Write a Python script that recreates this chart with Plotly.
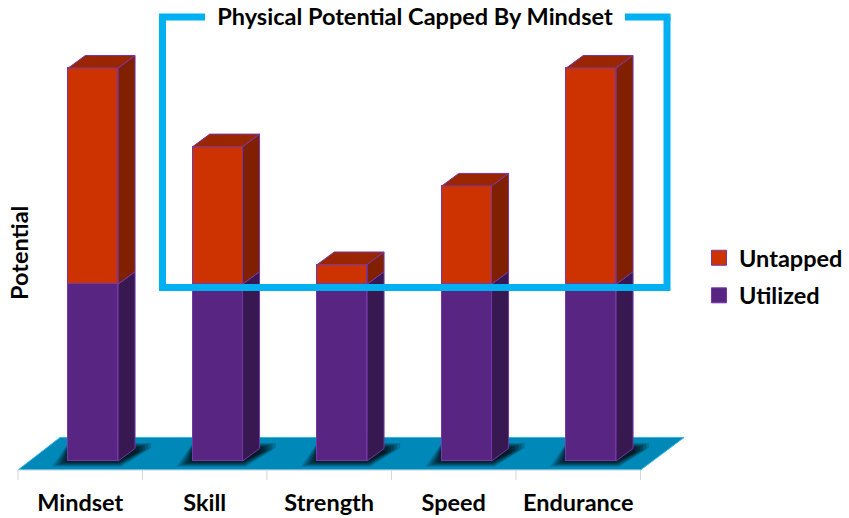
import plotly.graph_objects as go

categories = ["Mindset", "Skill", "Strength", "Speed", "Endurance"]
utilized = [45, 45, 45, 45, 45]
untapped = [55, 35, 5, 25, 55]

W, H = 849, 518
PLOT_H = 470
PX_PER_CAT = 124.5
PX_PER_VAL = 3.93
X0_PX = 80.2          # pixel of first category centre
Y0_PX = 461           # pixel of value 0
BAR_SHIFT = 0.104     # the bars stand forward on the 3D floor
BAR_W = 0.40
DX = 17 / PX_PER_CAT  # depth of the 3D look, in axis units
DY = 12.5 / PX_PER_VAL

RED, RED_SIDE, RED_TOP = "#CC3300", "#802000", "#992600"
PUR, PUR_SIDE = "#582583", "#381850"
EDGE = "#7438A8"
FLOOR = "#0088B8"
FRAME = "#00B0F0"
FONT = "Lato"


def xv(px):
    return (px - X0_PX) / PX_PER_CAT


def yv(px):
    return (Y0_PX - px) / PX_PER_VAL


def fx(px):
    return px / W


def fy(px):
    return (PLOT_H - px) / PLOT_H


positions = [i + BAR_SHIFT for i in range(len(categories))]

fig = go.Figure()

# legend entries, linked to the bars (added first so that Untapped is listed on top)
fig.add_scatter(x=[None], y=[None], mode="markers", name="Untapped", legendgroup="a",
                marker=dict(symbol="square", size=15, color=RED, line=dict(color=EDGE, width=1)))
fig.add_scatter(x=[None], y=[None], mode="markers", name="Utilized", legendgroup="b",
                marker=dict(symbol="square", size=15, color=PUR, line=dict(color=EDGE, width=1)))

fig.add_bar(x=positions, y=utilized, width=BAR_W, marker=dict(color=PUR, line=dict(color=EDGE, width=1)),
            name="Utilized", legendgroup="b", showlegend=False, hoverinfo="skip")
fig.add_bar(x=positions, y=untapped, width=BAR_W, marker=dict(color=RED, line=dict(color=EDGE, width=1)),
            name="Untapped", legendgroup="a", showlegend=False, hoverinfo="skip")


def polys(pts_list, color, name):
    xs, ys = [], []
    for pts in pts_list:
        xs += [p[0] for p in pts] + [pts[0][0], None]
        ys += [p[1] for p in pts] + [pts[0][1], None]
    fig.add_scatter(x=xs, y=ys, mode="lines", fill="toself", fillcolor=color,
                    line=dict(color=EDGE, width=1), name=name, showlegend=False, hoverinfo="skip")


side_u, side_t, top_t = [], [], []
for p, u, t in zip(positions, utilized, untapped):
    l, r = p - BAR_W / 2, p + BAR_W / 2
    T = u + t
    side_u.append([(r, 0), (r + DX, DY), (r + DX, u + DY), (r, u)])
    side_t.append([(r, u), (r + DX, u + DY), (r + DX, T + DY), (r, T)])
    top_t.append([(l, T), (l + DX, T + DY), (r + DX, T + DY), (r, T)])
polys(side_u, PUR_SIDE, "Utilized side")
polys(side_t, RED_SIDE, "Untapped side")
polys(top_t, RED_TOP, "Untapped top")

shapes = []


def path(pts):
    return "M " + " L ".join(f"{a:.4f},{b:.4f}" for a, b in pts) + " Z"


# floor
shapes.append(dict(type="path", xref="x", yref="y", layer="below", fillcolor=FLOOR,
                   line=dict(color="#30B8E8", width=1),
                   path=path([(xv(18), yv(470)), (xv(640.5), yv(470)), (xv(684), yv(437.5)), (xv(60), yv(437.5))])))
# soft shadows beneath the bars
for p in positions:
    l, r = p - BAR_W / 2, p + BAR_W / 2
    for grow, op in [(16, 0.20), (13, 0.25), (10, 0.30), (7, 0.40), (4, 0.50), (1, 0.60)]:
        gx, gy = grow / PX_PER_CAT, grow * 0.35 / PX_PER_VAL
        shapes.append(dict(type="path", xref="x", yref="y", layer="below", fillcolor="#001820",
                           opacity=op, line=dict(width=0),
                           path=path([(l - gx, -gy), (r + gx * 0.2, -gy), (r + DX + gx, DY * 0.6 + gy),
                                      (r + DX + gx, DY + gy), (l, DY + gy)])))

# axis baseline and the tick marks on category borders
shapes.append(dict(type="line", xref="x", yref="paper", x0=xv(18), x1=xv(640.5), y0=0, y1=0,
                   line=dict(color="#BCD4E6", width=1)))
for i in range(len(categories) + 1):
    shapes.append(dict(type="line", xref="x", yref="paper", x0=i - 0.5, x1=i - 0.5, y0=0, y1=fy(480),
                       line=dict(color="#D4D4D4", width=1)))

# callout frame, open at the top for its heading
shapes.append(dict(type="path", xref="paper", yref="paper", line=dict(color=FRAME, width=7),
                   path="M {},{} L {},{} L {},{} L {},{} L {},{}".format(
                       fx(205), fy(17), fx(162.5), fy(17), fx(162.5), fy(287.5),
                       fx(667), fy(287.5), fx(667), fy(17))))
shapes.append(dict(type="line", xref="paper", yref="paper", x0=fx(625), x1=fx(670.5), y0=fy(17), y1=fy(17),
                   line=dict(color=FRAME, width=7)))

fig.update_layout(
    width=W, height=H, autosize=False,
    margin=dict(l=0, r=0, t=0, b=H - PLOT_H, autoexpand=False),
    paper_bgcolor="white", plot_bgcolor="white",
    barmode="stack", bargap=0,
    font=dict(family=FONT, color="black"),
    title=dict(text="<b>Physical Potential Capped By Mindset</b>", x=fx(415), xanchor="center", xref="paper",
               y=1 - 17 / H, yanchor="middle", yref="container", font=dict(family=FONT, size=23.5, color="black")),
    xaxis=dict(range=[xv(0), xv(W)], tickmode="array", tickvals=list(range(len(categories))), ticktext=categories,
               showgrid=False, zeroline=False, showline=False, ticks="", ticklabelstandoff=16, automargin=False,
               tickfont=dict(family=FONT, size=23.5, color="black", weight="bold")),
    yaxis=dict(range=[yv(PLOT_H), yv(0)], visible=False, showgrid=False, zeroline=False),
    shapes=shapes,
    legend=dict(x=fx(699), xanchor="left", y=fy(236), yanchor="top", bgcolor="rgba(0,0,0,0)",
                tracegroupgap=4, font=dict(family=FONT, size=23.5, color="black", weight="bold"),
                traceorder="grouped", itemclick=False, itemdoubleclick=False),
    annotations=[dict(text="<b>Potential</b>", xref="paper", yref="paper", x=fx(19), y=fy(253),
                      xanchor="center", yanchor="middle", textangle=-90, showarrow=False,
                      font=dict(family=FONT, size=23.5, color="black"))],
)

fig.write_html("out.html", config={"displayModeBar": False},
               post_script="document.body.style.margin='0';document.body.style.overflow='hidden';")
